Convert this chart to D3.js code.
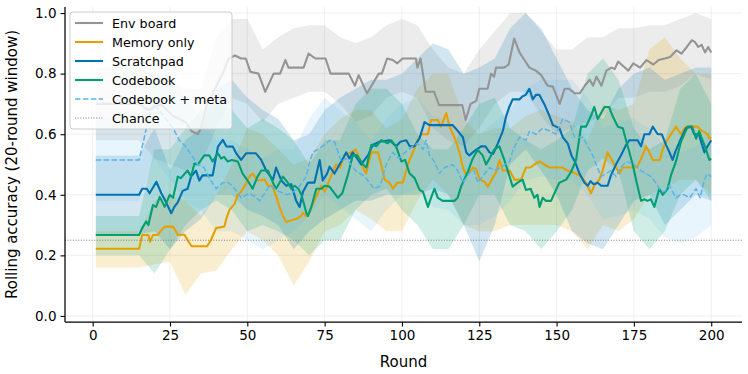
<!DOCTYPE html>
<html>
<head>
<meta charset="utf-8">
<script src="https://cdn.jsdelivr.net/npm/d3@7"></script>
<style>
  html, body { margin: 0; padding: 0; background: #fff; }
  svg { display: block; font-family: "DejaVu Sans", sans-serif; }
</style>
</head>
<body>
<svg id="chart" width="748" height="374"></svg>
<script>
// ---------------- DATA ----------------
const seriesNames = ["Env board", "Memory only", "Scratchpad", "Codebook", "Codebook + meta"];
const chanceLevel = 0.25;
const xTicks = [0, 25, 50, 75, 100, 125, 150, 175, 200];
const yTicks = [0.0, 0.2, 0.4, 0.6, 0.8, 1.0];

// rolling mean lines: [round, accuracy]
const envBoard = [[1,0.70],[15,0.70],[18,0.68],[22,0.70],[26,0.66],[30,0.64],[32,0.61],[34,0.60],[35,0.62],[37,0.70],[40,0.76],[42,0.80],[44,0.85],[46,0.86],[48,0.85],[49.5,0.85],[51,0.806],[53.6,0.80],[55.8,0.74],[58.5,0.80],[60.6,0.80],[62.3,0.845],[63.3,0.82],[68.2,0.82],[69.8,0.866],[72,0.85],[75.3,0.85],[76.9,0.80],[82.8,0.80],[84.8,0.76],[86,0.795],[88.7,0.735],[92.5,0.80],[93.5,0.80],[95.2,0.85],[97,0.845],[98.5,0.834],[100.2,0.85],[104.5,0.85],[105,0.82],[106,0.85],[107.7,0.74],[110.4,0.74],[112,0.696],[119.5,0.696],[120.6,0.647],[122.2,0.70],[124,0.71],[125,0.75],[127.7,0.75],[128.8,0.80],[129.8,0.79],[130.4,0.82],[133,0.82],[134.5,0.83],[136.3,0.916],[138,0.87],[139.6,0.845],[141.2,0.82],[143.3,0.81],[145,0.795],[147.1,0.76],[148.8,0.757],[151,0.70],[152.6,0.75],[154,0.75],[155.9,0.735],[157.5,0.735],[159.1,0.76],[160.7,0.78],[161.8,0.76],[162.9,0.79],[164.5,0.76],[166.1,0.81],[167.7,0.82],[168.8,0.815],[169.9,0.84],[171.5,0.825],[173.2,0.81],[174.8,0.834],[177,0.82],[179.1,0.845],[181.3,0.83],[183,0.845],[185,0.85],[186.7,0.855],[188.8,0.877],[190.4,0.866],[192.1,0.888],[193.7,0.91],[194.7,0.905],[195.8,0.888],[196.9,0.895],[198,0.87],[199,0.888],[200,0.87]];

const memoryOnly = [[1,0.222],[15,0.222],[16,0.267],[18,0.267],[18.5,0.245],[19.5,0.267],[21,0.267],[22,0.28],[23.3,0.295],[26,0.295],[27.5,0.268],[29.7,0.268],[31,0.245],[32,0.23],[37,0.23],[38.2,0.25],[39.9,0.29],[42.6,0.295],[43.2,0.32],[44.2,0.35],[45.9,0.37],[46.9,0.40],[48,0.41],[49.6,0.437],[50.7,0.46],[51.7,0.47],[53.3,0.447],[55.6,0.45],[56.7,0.43],[58,0.43],[59.3,0.396],[60.4,0.36],[61.5,0.33],[62.6,0.31],[64,0.315],[65.8,0.32],[67.4,0.33],[68,0.34],[69,0.33],[70,0.34],[71.2,0.37],[72.8,0.405],[73.9,0.43],[75,0.41],[76.6,0.45],[78.7,0.50],[80,0.49],[81.5,0.53],[83.6,0.54],[85,0.55],[86.3,0.52],[87.4,0.49],[88.4,0.47],[90.1,0.54],[92.2,0.54],[93.3,0.50],[94.4,0.45],[96,0.44],[97.1,0.42],[98.5,0.44],[100.3,0.44],[101.9,0.50],[103.5,0.54],[105.1,0.58],[106.2,0.60],[108.4,0.60],[109.4,0.647],[111.6,0.647],[112.6,0.625],[114.3,0.67],[115.4,0.625],[116.5,0.60],[117.5,0.575],[118.6,0.54],[119.7,0.49],[120.8,0.465],[121.8,0.475],[122.9,0.49],[124,0.485],[125.1,0.45],[126.5,0.445],[127.8,0.427],[129,0.45],[130.5,0.476],[131.5,0.515],[132.6,0.48],[134.8,0.48],[136.4,0.45],[138.5,0.45],[140.1,0.49],[141.5,0.49],[142.8,0.50],[144.5,0.51],[146,0.50],[147.7,0.49],[152,0.49],[153.5,0.48],[156.3,0.47],[157.9,0.46],[159.5,0.44],[161.1,0.405],[162.2,0.43],[163.8,0.45],[164.9,0.48],[166.5,0.54],[167.6,0.52],[169.2,0.49],[170.3,0.47],[171.4,0.49],[176,0.49],[177.8,0.53],[178.9,0.56],[180,0.54],[181.1,0.515],[183.4,0.515],[184.3,0.55],[185.4,0.575],[187,0.60],[188.6,0.625],[190.2,0.60],[191.8,0.625],[195.5,0.625],[197.2,0.61],[198.8,0.60],[199.4,0.585],[200,0.59]];

const scratchpad = [[1,0.40],[15,0.40],[16,0.42],[17.5,0.42],[18.4,0.405],[20.6,0.443],[22.2,0.405],[23.5,0.38],[25.4,0.339],[26.4,0.36],[27.5,0.375],[29.1,0.413],[30.7,0.42],[31.8,0.46],[33.4,0.48],[34.5,0.447],[35.5,0.464],[38.8,0.464],[40.5,0.559],[42.1,0.581],[43.2,0.56],[45.3,0.559],[46.4,0.537],[48,0.515],[49.6,0.537],[52.8,0.537],[54.5,0.515],[56.1,0.48],[58.3,0.45],[59.3,0.49],[61,0.447],[62.6,0.43],[64.2,0.435],[65.8,0.38],[66.9,0.36],[68,0.41],[69.6,0.44],[71.7,0.44],[73.4,0.515],[74.4,0.447],[75.8,0.47],[76.6,0.493],[78.2,0.47],[79.8,0.50],[80.9,0.52],[82,0.54],[83,0.52],[84.1,0.54],[85.5,0.52],[86.8,0.50],[87.9,0.515],[89,0.53],[90.6,0.565],[92.8,0.575],[96,0.58],[98.1,0.56],[99.5,0.575],[101.4,0.58],[102.5,0.56],[104,0.56],[105.7,0.587],[107.3,0.64],[108.9,0.63],[116.4,0.63],[118.1,0.61],[119.7,0.59],[120.8,0.54],[121.8,0.53],[123.5,0.545],[125.6,0.56],[127,0.56],[128.3,0.54],[129.5,0.535],[131,0.57],[132.6,0.61],[133.7,0.66],[134.7,0.69],[135.8,0.715],[138,0.715],[139,0.725],[140,0.73],[141.2,0.75],[142.3,0.715],[143.3,0.73],[144.4,0.73],[146,0.70],[147.7,0.66],[148.8,0.63],[150.9,0.62],[152,0.59],[153.6,0.57],[154.8,0.53],[155.9,0.51],[157.4,0.47],[159,0.44],[160.1,0.43],[161,0.445],[162,0.435],[163.3,0.44],[164.4,0.43],[166.5,0.43],[167.6,0.465],[169.2,0.50],[170.8,0.53],[172.5,0.565],[173.5,0.58],[176.2,0.58],[177.3,0.56],[178.4,0.60],[180,0.60],[181.1,0.625],[182.7,0.60],[184,0.60],[185.4,0.565],[186.5,0.54],[187.5,0.515],[188.5,0.545],[190.2,0.585],[191.8,0.62],[193.5,0.625],[194.5,0.60],[196,0.60],[197.8,0.54],[198.8,0.56],[200,0.58]];

const codebook = [[1,0.267],[15,0.267],[16,0.29],[17.3,0.312],[18,0.30],[19.5,0.366],[20.5,0.36],[21.7,0.393],[23.3,0.36],[24.9,0.40],[26,0.39],[27.5,0.46],[28.5,0.455],[30.7,0.48],[31.8,0.46],[32.9,0.503],[34,0.50],[36.1,0.53],[37.7,0.53],[38.8,0.51],[40.5,0.537],[41.5,0.52],[42.5,0.525],[43.6,0.51],[45,0.515],[46.9,0.51],[48.5,0.47],[50.1,0.447],[51.7,0.42],[53.3,0.46],[54.5,0.48],[56.7,0.48],[58.3,0.44],[59.3,0.42],[60.4,0.44],[61.5,0.46],[63.1,0.44],[64.2,0.42],[65.3,0.43],[66.5,0.42],[67.5,0.40],[69.1,0.34],[69.6,0.33],[70.7,0.36],[72.3,0.42],[73.9,0.42],[75,0.43],[76.6,0.427],[78.2,0.405],[79.3,0.39],[80.7,0.405],[82.5,0.465],[84.1,0.53],[85.5,0.53],[87.4,0.50],[88.5,0.49],[90.1,0.565],[91.7,0.56],[93.3,0.58],[95.4,0.57],[96.5,0.58],[98.1,0.56],[99.8,0.51],[101,0.515],[102.5,0.47],[104.1,0.455],[105.7,0.416],[106.8,0.41],[108.4,0.36],[109.4,0.39],[110.5,0.42],[111.6,0.39],[113.2,0.38],[117,0.38],[118,0.39],[119.1,0.427],[121.3,0.476],[122.9,0.52],[124.5,0.548],[126.1,0.53],[127.2,0.50],[128.3,0.52],[129.9,0.55],[131.5,0.56],[133.1,0.515],[134.8,0.46],[135.8,0.427],[137.4,0.44],[139,0.45],[140.1,0.416],[141.6,0.42],[142.8,0.39],[143.8,0.40],[144.5,0.36],[145.5,0.39],[146.6,0.38],[148.2,0.38],[149.8,0.416],[150.9,0.44],[153.1,0.45],[154.7,0.476],[156.3,0.515],[157.9,0.625],[159.5,0.625],[161.1,0.66],[162.2,0.69],[163.3,0.65],[164.4,0.67],[165.5,0.69],[167,0.69],[168.1,0.66],[169.8,0.625],[171.4,0.62],[173,0.56],[174.6,0.50],[176.2,0.427],[177.3,0.38],[178.4,0.385],[179.4,0.38],[180.5,0.385],[181.6,0.36],[183.2,0.42],[184.3,0.40],[185.9,0.42],[187,0.465],[188.6,0.51],[190.2,0.575],[192.4,0.625],[193.8,0.625],[195.1,0.585],[196.1,0.61],[197.2,0.58],[198.3,0.55],[199.4,0.515],[200,0.52]];

const codebookMeta = [[1,0.515],[15,0.515],[16.5,0.58],[18,0.65],[20,0.70],[23,0.66],[26,0.62],[28,0.58],[30,0.56],[32,0.53],[34,0.50],[36,0.49],[38,0.45],[40,0.42],[42,0.44],[44,0.44],[46,0.42],[48,0.39],[50.7,0.405],[52.3,0.395],[54,0.38],[57.2,0.43],[60.4,0.41],[63,0.40],[65,0.41],[67,0.43],[69,0.46],[70.2,0.51],[71.2,0.54],[72.8,0.55],[75,0.565],[76.6,0.58],[78.2,0.575],[80.4,0.51],[82,0.52],[85,0.48],[88,0.46],[91,0.42],[93,0.43],[94.9,0.50],[97,0.54],[99,0.52],[101,0.54],[103.5,0.56],[105,0.57],[106.8,0.55],[107.8,0.58],[108.9,0.53],[110.5,0.51],[112.1,0.47],[113.8,0.49],[116.4,0.50],[118,0.48],[119.7,0.44],[122.4,0.48],[123.3,0.48],[124.5,0.44],[126,0.46],[128.3,0.49],[130,0.48],[132,0.49],[134.8,0.51],[136,0.55],[138,0.59],[140.1,0.58],[141.2,0.61],[143.4,0.60],[145.5,0.62],[148,0.61],[149.8,0.60],[152,0.65],[154.1,0.64],[155.8,0.59],[158.5,0.59],[160.1,0.56],[161.7,0.53],[162.8,0.50],[164.4,0.46],[166,0.47],[167.6,0.48],[169.2,0.46],[170.8,0.49],[172.5,0.51],[175,0.50],[177.3,0.48],[179,0.47],[180.5,0.46],[182.1,0.44],[183.2,0.42],[184.8,0.41],[186.5,0.43],[188.6,0.39],[190,0.40],[191.3,0.40],[193,0.39],[195.1,0.42],[196.4,0.39],[197.8,0.45],[198.8,0.47],[200,0.46]];

// uncertainty bands, sampled every 5 rounds
const bandRounds = [1,5,10,15,20,25,30,35,40,45,50,55,60,65,70,75,80,85,90,95,100,105,110,115,120,125,130,135,140,145,150,155,160,165,170,175,180,185,190,195,200];
const envLow   = [.58,.58,.58,.58,.52,.50,.48,.50,.62,.72,.70,.64,.70,.72,.74,.74,.70,.64,.66,.72,.74,.72,.62,.58,.56,.62,.70,.74,.74,.66,.60,.62,.64,.66,.72,.72,.74,.74,.76,.80,.78];
const envHigh  = [.82,.82,.82,.82,.80,.78,.75,.75,.92,.98,.98,.88,.92,.95,.96,.96,.92,.90,.92,.96,.98,.96,.88,.82,.80,.88,.94,1.0,1.0,.94,.88,.88,.92,.92,.95,.95,.96,.96,.98,1.0,.98];
const memLow   = [.16,.16,.16,.16,.17,.18,.07,.14,.15,.22,.28,.25,.20,.10,.18,.28,.30,.35,.32,.28,.28,.38,.45,.40,.30,.28,.28,.30,.30,.30,.30,.28,.22,.30,.28,.32,.40,.42,.45,.45,.40];
const memHigh  = [.28,.28,.28,.28,.38,.40,.38,.33,.40,.50,.62,.60,.55,.50,.52,.60,.65,.68,.68,.62,.65,.75,.80,.80,.65,.60,.62,.62,.66,.68,.66,.64,.58,.70,.68,.70,.88,.92,.85,.80,.80];
const scrLow   = [.27,.27,.27,.27,.28,.22,.28,.32,.40,.40,.35,.33,.30,.22,.28,.32,.35,.38,.38,.40,.40,.40,.42,.40,.30,.18,.30,.50,.55,.48,.40,.28,.24,.22,.30,.38,.40,.30,.35,.40,.38];
const scrHigh  = [.53,.53,.53,.53,.62,.48,.58,.62,.75,.78,.72,.68,.65,.58,.60,.68,.72,.75,.78,.78,.80,.85,.90,.88,.80,.82,.85,.95,1.0,.95,.85,.75,.68,.65,.75,.80,.82,.78,.80,.82,.82];
const cbLow    = [.20,.20,.20,.20,.14,.22,.30,.35,.38,.35,.28,.30,.28,.25,.20,.25,.25,.35,.40,.42,.35,.30,.22,.22,.30,.40,.40,.30,.28,.22,.28,.35,.48,.52,.48,.28,.22,.28,.40,.45,.38];
const cbHigh   = [.33,.33,.33,.33,.55,.55,.62,.68,.70,.68,.62,.65,.62,.58,.50,.58,.58,.70,.75,.75,.70,.60,.55,.55,.62,.70,.72,.62,.58,.55,.58,.62,.80,.85,.78,.62,.55,.58,.75,.80,.70];
const metaLow  = [.38,.38,.38,.38,.52,.45,.38,.35,.28,.28,.25,.22,.25,.28,.33,.40,.36,.32,.28,.35,.40,.42,.36,.35,.30,.30,.33,.38,.45,.46,.45,.45,.40,.32,.33,.35,.32,.26,.24,.26,.30];
const metaHigh = [.65,.65,.65,.65,.85,.80,.72,.65,.58,.58,.55,.52,.55,.55,.65,.72,.68,.64,.58,.65,.70,.72,.66,.65,.60,.60,.64,.68,.75,.78,.78,.78,.72,.62,.64,.65,.62,.56,.54,.56,.62];

const colors = ["#949494", "#E69F00", "#0072B2", "#009E73", "#56B4E9"];

// ---------------- CHART ----------------
(function () {
const svg = d3.select("#chart");
const mL = 65, mR = 742, mT = 7, mB = 322;

const x = d3.scaleLinear().domain([-8.95, 209.95]).range([mL, mR]);
const y = d3.scaleLinear().domain([-0.02, 1.02]).range([mB, mT]);

svg.append("defs").append("clipPath").attr("id", "plotclip")
  .append("rect").attr("x", mL).attr("y", mT).attr("width", mR - mL).attr("height", mB - mT);

// grid
const grid = svg.append("g");
grid.selectAll("line.vg").data(xTicks).enter().append("line")
  .attr("x1", d => x(d)).attr("x2", d => x(d)).attr("y1", mT).attr("y2", mB)
  .attr("stroke", "#ebebeb").attr("stroke-width", 0.8);
grid.selectAll("line.hg").data(yTicks).enter().append("line")
  .attr("x1", mL).attr("x2", mR).attr("y1", d => y(d)).attr("y2", d => y(d))
  .attr("stroke", "#ebebeb").attr("stroke-width", 0.8);

const plot = svg.append("g").attr("clip-path", "url(#plotclip)");

const lines = [envBoard, memoryOnly, scratchpad, codebook, codebookMeta];
const lows = [envLow, memLow, scrLow, cbLow, metaLow];
const highs = [envHigh, memHigh, scrHigh, cbHigh, metaHigh];
const bandAlpha = [0.18, 0.18, 0.18, 0.18, 0.13];

const area = d3.area().x(d => x(d.r)).y0(d => y(d.lo)).y1(d => y(d.hi));
const line = d3.line().x(d => x(d[0])).y(d => y(d[1]));

lines.forEach((ln, i) => {
  const bd = bandRounds.map((r, j) => ({ r: r, lo: lows[i][j], hi: highs[i][j] }));
  plot.append("path").datum(bd).attr("d", area)
    .attr("fill", colors[i]).attr("fill-opacity", bandAlpha[i]).attr("stroke", "none");
});
lines.forEach((ln, i) => {
  const p = plot.append("path").datum(ln).attr("d", line)
    .attr("fill", "none").attr("stroke", colors[i])
    .attr("stroke-width", i === 4 ? 1.5 : 2.1)
    .attr("stroke-linejoin", "round");
  if (i === 4) p.attr("stroke-dasharray", "5.5,2.4");
});

// chance line
plot.append("line").attr("x1", mL).attr("x2", mR)
  .attr("y1", y(chanceLevel)).attr("y2", y(chanceLevel))
  .attr("stroke", "#7f7f7f").attr("stroke-width", 1).attr("stroke-dasharray", "1,1.65");

// axes
const xAxis = d3.axisBottom(x).tickValues(xTicks).tickFormat(d3.format("d")).tickSizeOuter(0).tickSize(4.5).tickPadding(4);
const yAxis = d3.axisLeft(y).tickValues(yTicks).tickFormat(d3.format(".1f")).tickSizeOuter(0).tickSize(4.5).tickPadding(4);

const gx = svg.append("g").attr("transform", `translate(0,${mB})`).call(xAxis);
const gy = svg.append("g").attr("transform", `translate(${mL},0)`).call(yAxis);
[gx, gy].forEach(g => {
  g.select(".domain").attr("stroke", "#000").attr("stroke-width", 1.25);
  g.selectAll(".tick line").attr("stroke", "#000").attr("stroke-width", 1.1);
  g.selectAll(".tick text").attr("fill", "#000").style("font-size", "13.5px").style("font-family", "DejaVu Sans, sans-serif");
});
gx.select(".domain").attr("d", `M${mL},0H${mR}`);
gy.select(".domain").attr("d", `M0,${mB}V${mT}`);

svg.append("text").attr("x", (mL + mR) / 2).attr("y", 367)
  .attr("text-anchor", "middle").style("font-size", "15px").text("Round");
svg.append("text").attr("transform", `translate(17,${(mT + mB) / 2}) rotate(-90)`)
  .attr("text-anchor", "middle").style("font-size", "15px").text("Rolling accuracy (20-round window)");

// legend
const legX = 70, legY = 12, legW = 162, legH = 117;
const leg = svg.append("g");
leg.append("rect").attr("x", legX).attr("y", legY).attr("width", legW).attr("height", legH)
  .attr("rx", 3).attr("fill", "#fff").attr("fill-opacity", 0.8).attr("stroke", "#cccccc").attr("stroke-width", 1);
const legItems = seriesNames.concat(["Chance"]);
legItems.forEach((name, i) => {
  const yy = legY + 11 + i * 19;
  const l = leg.append("line").attr("x1", legX + 5).attr("x2", legX + 33).attr("y1", yy).attr("y2", yy);
  if (i < 5) {
    l.attr("stroke", colors[i]).attr("stroke-width", i === 4 ? 1.5 : 2.1);
    if (i === 4) l.attr("stroke-dasharray", "5.5,2.4");
  } else {
    l.attr("stroke", "#7f7f7f").attr("stroke-width", 1).attr("stroke-dasharray", "1,1.65");
  }
  leg.append("text").attr("x", legX + 42).attr("y", yy + 4.5)
    .style("font-size", "12.7px").attr("fill", "#000").text(name);
});
})();
</script>
</body>
</html>
